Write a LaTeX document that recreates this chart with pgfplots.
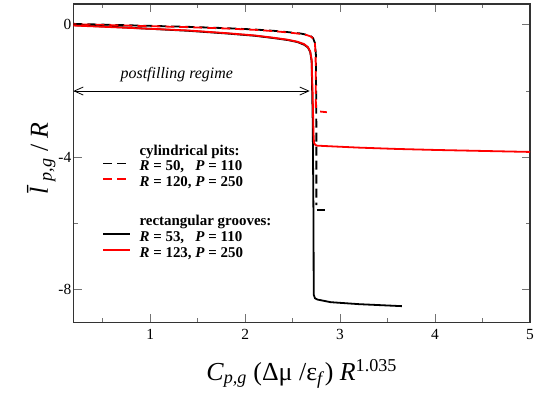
\documentclass[border=0pt]{standalone}
\usepackage{pgfplots}
\pgfplotsset{compat=1.18}
\usepackage{fontspec}
\setmainfont{Liberation Serif}
\usetikzlibrary{arrows.meta}
\pgfplotsset{
 common/.style={
  at={(0,0)}, anchor=south west,
  scale only axis, width=456.7bp, height=318.7bp,
  xmin=0.19, xmax=5, ymin=-9, ymax=0.63,
  clip mode=individual,
  legend style={anchor=north west, draw=none, fill=none,
    font=\fontsize{15}{17}\selectfont, inner sep=0pt, row sep=0pt,
    nodes={inner sep=0.5bp, text height=10.8bp, text depth=4bp},
    /tikz/every odd column/.append style={column sep=8bp}},
  legend cell align=left,
  legend image code/.code={\draw[#1] (0bp,4bp) -- (27bp,4bp);},
 }
}
\begin{document}
\begin{tikzpicture}
\begin{axis}[common,
 xtick={1,2,3,4,5}, xticklabels={1,2,3,4,5},
 minor xtick={0.5,1.5,2.5,3.5,4.5},
 ytick={-8,-4,0}, yticklabels={-8,-4,0},
 minor ytick={-6,-2},
 tick align=inside, major tick length=8.5bp, minor tick length=4.5bp,
 tick style={black!55, line width=1bp},
 axis line style={black!80, line width=1.2bp},
 tick label style={font=\fontsize{15.5}{18}\selectfont},
 xticklabel style={yshift=-3bp},
 yticklabel style={xshift=1.5bp},
 xlabel={\textit{C}\textsubscript{\textit{p,g}} (Δμ /ε\textsubscript{\textit{f}}) \textit{R}\textsuperscript{1.035}},
 xlabel style={font=\fontsize{26}{30}\selectfont, at={(axis description cs:0.5,-0.16)}, anchor=center},
 ylabel={\textit{\=l}\textsubscript{\textit{p,g}} / \textit{R}},
 ylabel style={font=\fontsize{26}{30}\selectfont, at={(axis description cs:-0.07,0.515)}, anchor=center},
 legend style={at={(axis description cs:0.063,0.562)}},
]
\addlegendimage{empty legend}
\addlegendentry{\textbf{cylindrical pits:}}
\addplot[black, line width=1.8bp, dash pattern=on 9bp off 5bp] coordinates {
(0.19,0.03) (0.6,0.0) (1.0,-0.03) (1.4,-0.06) (1.8,-0.1) (2.1,-0.14) (2.3,-0.18) (2.45,-0.22) (2.58,-0.26) (2.65,-0.3) (2.69,-0.34) (2.715,-0.4) (2.735,-0.55) (2.745,-0.9) (2.75,-3) (2.75,-5.45)};
\addlegendentry{\textbf{\textit{R} = 50,\ \ \ \textit{P} = 110}}
\addplot[red, line width=1.8bp, dash pattern=on 9bp off 5bp, dash phase=6bp,
  legend image post style={dash phase=0bp}] coordinates {
(0.19,0.02) (0.6,-0.01) (1.0,-0.04) (1.4,-0.07) (1.8,-0.11) (2.1,-0.15) (2.3,-0.19) (2.45,-0.23) (2.58,-0.27) (2.65,-0.31) (2.69,-0.35) (2.715,-0.41) (2.735,-0.56) (2.742,-0.9) (2.745,-2.6)};
\addlegendentry{\textbf{\textit{R} = 120, \textit{P} = 250}}
\addplot[black, line width=1.8bp, forget plot] coordinates {(2.755,-5.6) (2.84,-5.6)};
\addplot[red, line width=1.8bp, forget plot] coordinates {(2.79,-2.62) (2.86,-2.64)};
\draw[{Straight Barb[length=9bp,width=8bp]}-{Straight Barb[length=9bp,width=8bp]}, line width=0.8bp] (axis cs:0.19,-2.0) -- (axis cs:2.68,-2.0);
\node[font=\fontsize{16}{19}\selectfont\itshape] at (axis cs:1.28,-1.51) {postfilling regime};
\end{axis}
\begin{axis}[common, hide axis,
 legend style={at={(axis description cs:0.063,0.341)}},
]
\addlegendimage{empty legend}
\addlegendentry{\textbf{rectangular grooves:}}
\addplot[black, line width=1.8bp] coordinates {
(0.19,-0.01) (0.6,-0.06) (1.0,-0.12) (1.4,-0.18) (1.8,-0.26) (2.1,-0.33) (2.3,-0.4) (2.45,-0.46) (2.55,-0.52) (2.62,-0.6) (2.66,-0.68) (2.685,-0.82) (2.70,-1.1) (2.712,-3) (2.72,-6) (2.722,-8.15) (2.735,-8.26) (2.76,-8.3) (2.9,-8.38) (3.2,-8.44) (3.5,-8.48) (3.65,-8.5)};
\addlegendentry{\textbf{\textit{R} = 53,\ \ \ \textit{P} = 110}}
\addplot[red, line width=1.8bp] coordinates {
(0.19,-0.02) (0.6,-0.07) (1.0,-0.12) (1.4,-0.17) (1.8,-0.25) (2.1,-0.32) (2.3,-0.39) (2.45,-0.45) (2.55,-0.51) (2.62,-0.58) (2.66,-0.67) (2.685,-0.8) (2.70,-1.05) (2.71,-2) (2.72,-3.3) (2.725,-3.56) (2.74,-3.63) (2.76,-3.65) (2.9,-3.67) (3.2,-3.71) (3.6,-3.75) (4.0,-3.78) (4.5,-3.81) (5.0,-3.84)};
\addlegendentry{\textbf{\textit{R} = 123, \textit{P} = 250}}
\end{axis}
\pgfresetboundingbox
\path[use as bounding box] (-73.3bp,-76.3bp) rectangle (471.7bp,322.7bp);
\end{tikzpicture}
\end{document}
